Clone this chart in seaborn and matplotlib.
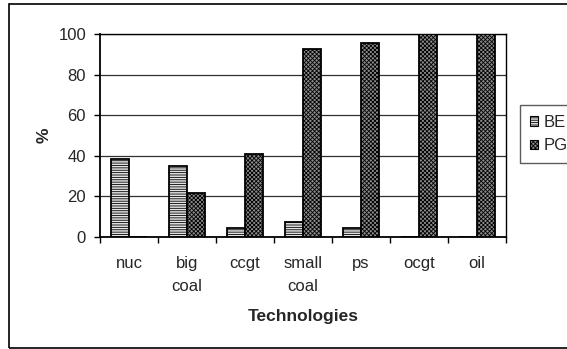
import matplotlib
matplotlib.use("Agg")
import matplotlib.pyplot as plt
import matplotlib.patches as mpatches
from matplotlib.ticker import FixedLocator
import seaborn as sns
import pandas as pd

# Share of each technology by series (%)
technologies = ["nuc", "big\ncoal", "ccgt", "small\ncoal", "ps", "ocgt", "oil"]
be_values = [38.4, 34.8, 4.4, 7.4, 4.4, 0.0, 0.0]
pg_values = [0.0, 21.5, 40.7, 92.6, 95.6, 100.0, 100.0]
series_names = ["BE", "PG"]

df = pd.DataFrame({
    "tech": technologies * 2,
    "value": be_values + pg_values,
    "series": [series_names[0]] * len(technologies) + [series_names[1]] * len(technologies),
})

sns.set_theme(style="white")
plt.rcParams["font.family"] = ["Liberation Sans", "DejaVu Sans"]
plt.rcParams["hatch.linewidth"] = 0.6

fig = plt.figure(figsize=(5.67, 3.49), dpi=100)
ax = fig.add_axes([100 / 567, 1 - 237 / 349, 406 / 567, 203 / 349])

face = {"BE": "#e2e2e2", "PG": "#8c8c8c"}
hatch = {"BE": "-------", "PG": "xxxxxxxx"}

sns.barplot(data=df, x="tech", y="value", hue="series", order=technologies,
            hue_order=series_names, palette=face, width=0.63,
            edgecolor="black", linewidth=1.3, legend=False, ax=ax, zorder=3)

for cont, name in zip(ax.containers, series_names):
    for bar in cont:
        bar.set_hatch(hatch[name])

ax.set_xlim(-0.5, len(technologies) - 0.5)
ax.set_ylim(0, 100)
ax.set_yticks(range(0, 101, 20))
ax.yaxis.grid(True, color="#303030", linewidth=0.9, zorder=0)
ax.set_axisbelow(True)

ax.xaxis.set_minor_locator(FixedLocator([i - 0.5 for i in range(len(technologies) + 1)]))
ax.tick_params(axis="x", which="major", length=0, pad=14, labelsize=12)
ax.tick_params(axis="x", which="minor", length=4, width=1, color="black", direction="out", bottom=True)
ax.tick_params(axis="y", length=4, width=1, color="black", direction="out", left=True, labelsize=12, pad=6)
for lbl in ax.get_xticklabels():
    lbl.set_linespacing(1.6)

for side, sp in ax.spines.items():
    sp.set_visible(True)
    sp.set_color("black")
    sp.set_linewidth(1.0)
ax.spines["left"].set_linewidth(1.3)
ax.spines["bottom"].set_linewidth(1.3)

ax.set_xlabel("Technologies", fontsize=12.5, fontweight="bold", labelpad=11)
ax.set_ylabel("%", fontsize=12.5, fontweight="bold", labelpad=5)

handles = [mpatches.Patch(facecolor=face[n], edgecolor="black", hatch=hatch[n], linewidth=0.8, label=n)
           for n in series_names]
fig.legend(handles=handles, loc="upper left", bbox_to_anchor=(520 / 567, 1 - 105 / 349),
           frameon=True, fancybox=False, edgecolor="#333333", fontsize=12,
           handlelength=0.5, handleheight=0.5, handletextpad=0.3, borderpad=0.6,
           labelspacing=0.5, borderaxespad=0)

# Outer chart frame
fig.patches.append(mpatches.Rectangle((9 / 567, 1 / 349), 1.2, 344 / 349, transform=fig.transFigure,
                                      fill=False, edgecolor="black", linewidth=1.2))

fig.savefig("out.png", dpi=100)
